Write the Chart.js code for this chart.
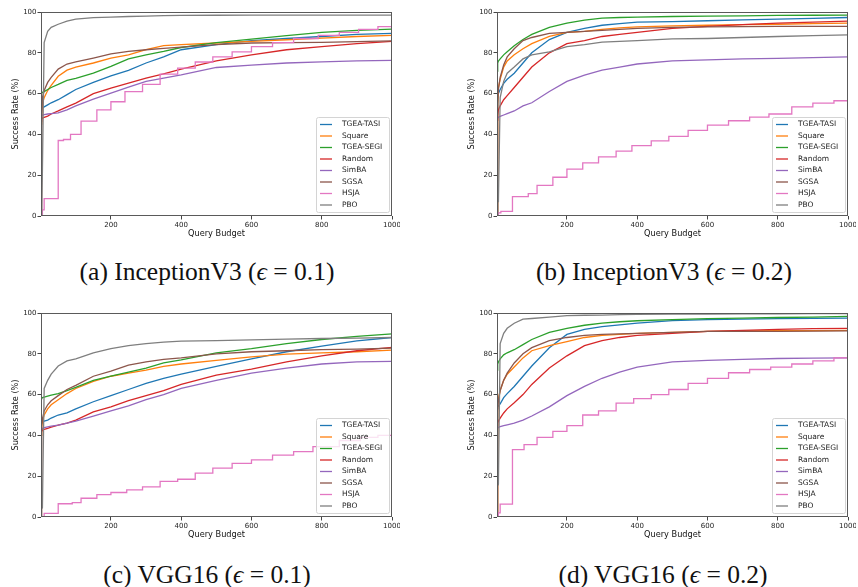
<!DOCTYPE html>
<html>
<head>
<meta charset="utf-8">
<script src="https://cdn.jsdelivr.net/npm/chart.js@4.4.1/dist/chart.umd.min.js"></script>
<style>
  body { margin: 0; background: #fff; width: 858px; height: 587px; position: relative; overflow: hidden; }
  .panel { position: absolute; width: 400px; height: 250px; }
  .caption { position: absolute; width: 414px; text-align: center; font-family: "Liberation Serif", serif;
             font-size: 25.5px; line-height: 26px; color: #111; white-space: nowrap; }
</style>
</head>
<body>
<div class="panel" style="left:0;top:0"><canvas id="chartA" width="400" height="250"></canvas></div>
<div class="panel" style="left:456px;top:0"><canvas id="chartB" width="400" height="250"></canvas></div>
<div class="panel" style="left:0;top:301px"><canvas id="chartC" width="400" height="250"></canvas></div>
<div class="panel" style="left:456px;top:301px"><canvas id="chartD" width="400" height="250"></canvas></div>
<div class="caption" style="left:0;top:259px">(a) InceptionV3 (<i>ϵ</i> = 0.1)</div>
<div class="caption" style="left:457px;top:259px">(b) InceptionV3 (<i>ϵ</i> = 0.2)</div>
<div class="caption" style="left:0;top:562px">(c) VGG16 (<i>ϵ</i> = 0.1)</div>
<div class="caption" style="left:456px;top:562px">(d) VGG16 (<i>ϵ</i> = 0.2)</div>
<script>
const budgets = [1, 3, 5, 10, 20, 30, 50, 75, 100, 150, 200, 250, 300, 350, 400, 500, 600, 700, 800, 900, 1000];
const methods = ['TGEA-TASI', 'Square', 'TGEA-SEGI', 'Random', 'SimBA', 'SGSA', 'HSJA', 'PBO'];
const colors = ['#1f77b4', '#ff7f0e', '#2ca02c', '#d62728', '#9467bd', '#8c564b', '#e377c2', '#7f7f7f'];
const xTicks = [200, 400, 600, 800, 1000];
const yTicks = [0, 20, 40, 60, 80, 100];

// (a) InceptionV3, eps = 0.1
const incep01TASI = [52, 52.5, 53, 53.5, 54.5, 55.5, 57, 59.5, 62, 65.5, 68.7, 71.4, 75, 78, 81.5, 84, 86, 87, 88, 89, 89.5];
const incep01Square = [45, 50, 55, 58, 61.5, 64, 68.5, 71.5, 73, 75, 77.4, 79, 81.5, 83.5, 84, 84.8, 85.6, 86.4, 87.2, 88, 88.5];
const incep01SEGI = [60, 60.3, 60.6, 61, 62, 63, 64.5, 66.5, 67.5, 70, 73.3, 77, 79, 80.7, 82.6, 85, 86.7, 88.4, 90, 91, 91.6];
const incep01Random = [46.5, 47.5, 48, 48.3, 49, 50, 51.5, 53.5, 55.3, 60, 62.7, 65.1, 67.6, 69.7, 72, 76, 79, 81.5, 83, 84.5, 85.6];
const incep01SimBA = [49, 49.3, 49.5, 49.7, 50, 50.2, 50.5, 52, 54, 57.3, 60.2, 63.2, 66, 67.6, 69.2, 72.8, 74, 75, 75.6, 76, 76.3];
const incep01SGSA = [0, 47, 58, 61.5, 65.5, 68, 72, 74.5, 75.5, 77.4, 79.5, 80.7, 81.5, 82.2, 82.8, 84, 84.8, 85, 85.1, 85.5, 85.8];
const incep01PBO = [0, 5, 22, 85, 90.5, 92.5, 94, 95.5, 96.5, 97.2, 97.5, 97.8, 98, 98.2, 98.3, 98.4, 98.5, 98.5, 98.5, 98.5, 98.5];
const incep01HsjaX = [1, 5, 10, 50, 65, 85, 115, 160, 200, 240, 290, 340, 390, 440, 490, 545, 600, 660, 720, 790, 850, 905, 960, 1000];
const incep01HsjaY = [0, 3, 8.5, 37, 37.5, 40, 46.5, 52, 56, 61, 64.5, 69.5, 72.5, 75.5, 78, 80.5, 83, 85, 87, 88.5, 90, 91.5, 92.8, 92.8];

// (b) InceptionV3, eps = 0.2
const incep02TASI = [50, 58, 60, 62, 65, 67, 70, 75, 80, 86.5, 90, 92, 93.5, 94.3, 95, 95.3, 95.7, 96.1, 96.5, 96.9, 97.3];
const incep02Square = [0, 55, 63, 67, 73, 76, 79, 82, 84.5, 88, 90, 90.5, 91.5, 92.2, 92.7, 93.2, 93.5, 93.8, 94, 94.3, 94.5];
const incep02SEGI = [71, 75, 76, 77, 79, 80.5, 83.5, 86.5, 89, 92.5, 94.5, 96, 97, 97.3, 97.5, 97.8, 98, 98.1, 98.3, 98.4, 98.5];
const incep02Random = [47, 50, 52, 54, 57, 59, 63, 68, 73, 80, 84.5, 86, 88, 89, 90, 92, 93, 93.8, 94.5, 95, 95.5];
const incep02SimBA = [48, 48.2, 48.4, 48.8, 49.5, 50.2, 51.5, 54, 55.5, 61, 66, 69, 71.5, 73, 74.5, 76, 76.5, 77, 77.3, 77.6, 78];
const incep02SGSA = [0, 55, 62, 68, 74, 78, 82, 86, 87.5, 89.5, 90, 90.5, 91, 91.5, 92, 92.5, 92.7, 92.8, 93, 93, 93];
const incep02PBO = [0, 7, 7, 58, 66, 70, 73, 77, 79, 80.5, 83, 84, 85.2, 85.6, 86, 86.8, 87, 87.5, 88, 88.4, 88.8];
const incep02HsjaX = [1, 5, 12, 45, 90, 115, 160, 200, 245, 290, 340, 385, 440, 490, 545, 600, 660, 720, 775, 840, 900, 960, 1000];
const incep02HsjaY = [0, 1.5, 2.3, 9.5, 11, 15, 19, 23, 26, 29, 31.8, 34.5, 36.8, 39, 42, 44.5, 46.7, 48.5, 50, 53.5, 55.3, 56.5, 56.5];

// (c) VGG16, eps = 0.1
const vgg01TASI = [46, 46.3, 46.6, 47, 47.5, 48.5, 50, 51, 53, 56.5, 59.5, 62.5, 65.5, 68, 70, 73.8, 77.5, 81, 83.8, 86.3, 88];
const vgg01Square = [40, 44, 47, 50, 53, 55, 57.5, 60.5, 63, 66.5, 69, 70.5, 72, 73.8, 75, 76.8, 78.5, 79.8, 80.5, 81, 81.8];
const vgg01SEGI = [58, 58.2, 58.5, 58.8, 59.3, 59.8, 60.5, 62, 63.5, 67, 69, 71, 73, 75.5, 77, 80.5, 82.5, 85, 87, 88.5, 89.8];
const vgg01Random = [42, 42.3, 42.6, 43, 43.5, 44, 45, 46, 47.5, 51.5, 54, 57, 59.5, 62, 65, 69.5, 72.5, 76, 79, 81.5, 83.2];
const vgg01SimBA = [43, 43.3, 43.5, 43.8, 44.2, 44.5, 45, 46, 47, 49.5, 52, 54.5, 57.5, 60, 63, 67, 70.5, 73, 75, 76, 76.3];
const vgg01SGSA = [0, 45, 48, 52, 55, 57, 59.5, 62.5, 64.5, 69, 71.5, 74.5, 76, 77.3, 78, 80, 81, 81.5, 82, 82.3, 82.8];
const vgg01PBO = [4, 4, 4.5, 63, 67, 70, 74, 76.5, 77.5, 80.5, 82.5, 84, 85, 85.7, 86.2, 86.5, 86.8, 87.2, 87.5, 87.7, 88];
const vgg01HsjaX = [1, 10, 50, 90, 115, 160, 200, 245, 290, 340, 390, 440, 490, 545, 600, 660, 720, 775, 850, 910, 960, 1000];
const vgg01HsjaY = [0, 1.8, 6.5, 7, 9.2, 11, 12, 13.3, 14.8, 17.5, 18.5, 21.5, 24, 26.3, 28, 30.3, 32, 34.5, 37.5, 39, 40, 40];

// (d) VGG16, eps = 0.2
const vgg02TASI = [53, 54, 54.5, 55.5, 58.5, 60.5, 64, 69, 74, 83, 89.5, 92, 93.3, 94.2, 95, 96.3, 96.8, 97, 97.2, 97.4, 97.5];
const vgg02Square = [0, 55, 58, 62, 67, 70, 73.5, 78, 81.5, 84, 86, 88, 89, 89.5, 90, 90.5, 91, 91.2, 91.3, 91.4, 91.5];
const vgg02SEGI = [72, 75, 76, 77.5, 79.5, 80.5, 82, 84.5, 87, 90.5, 92.5, 94, 95, 95.7, 96.2, 96.8, 97.2, 97.5, 97.8, 98, 98.3];
const vgg02Random = [45, 46, 47, 48.5, 51, 53, 56, 60, 65, 73, 79, 84, 86.5, 88, 89, 90, 91, 91.5, 92, 92.3, 92.5];
const vgg02SimBA = [43.5, 43.7, 44, 44.3, 44.8, 45.2, 46, 47.5, 49.5, 54, 59.5, 64, 68, 71, 73.5, 76, 76.8, 77.3, 77.7, 77.9, 78];
const vgg02SGSA = [0, 52, 57, 62, 67, 70.5, 75.5, 80, 83, 86.5, 88, 89, 89.5, 89.8, 90, 90.5, 91, 91, 91, 91.1, 91.2];
const vgg02PBO = [15, 15, 16, 85, 90, 92.5, 95, 97, 97.3, 98, 98.7, 98.9, 99, 99.2, 99.3, 99.4, 99.5, 99.6, 99.6, 99.7, 99.7];
const vgg02HsjaX = [1, 5, 10, 45, 78, 115, 160, 200, 245, 290, 340, 390, 440, 490, 545, 600, 660, 720, 780, 840, 900, 960, 1000];
const vgg02HsjaY = [0, 2, 6.3, 33, 35.5, 39, 42, 44.8, 50, 52, 55.8, 58, 60, 62.5, 65.5, 68, 70.7, 72.3, 73.5, 75, 76.5, 78, 78];

const panels = [
  { id: 'chartA', series: [incep01TASI, incep01Square, incep01SEGI, incep01Random, incep01SimBA, incep01SGSA, null, incep01PBO], hsjaX: incep01HsjaX, hsjaY: incep01HsjaY },
  { id: 'chartB', series: [incep02TASI, incep02Square, incep02SEGI, incep02Random, incep02SimBA, incep02SGSA, null, incep02PBO], hsjaX: incep02HsjaX, hsjaY: incep02HsjaY },
  { id: 'chartC', series: [vgg01TASI, vgg01Square, vgg01SEGI, vgg01Random, vgg01SimBA, vgg01SGSA, null, vgg01PBO], hsjaX: vgg01HsjaX, hsjaY: vgg01HsjaY },
  { id: 'chartD', series: [vgg02TASI, vgg02Square, vgg02SEGI, vgg02Random, vgg02SimBA, vgg02SGSA, null, vgg02PBO], hsjaX: vgg02HsjaX, hsjaY: vgg02HsjaY },
];

// axes frame + matplotlib-style legend box in the lower right corner
const framePlugin = {
  id: 'frame',
  afterDatasetsDraw(chart) {
    const { ctx, chartArea: a } = chart;
    ctx.save();
    ctx.strokeStyle = '#5a5a5a';
    ctx.lineWidth = 1;
    ctx.strokeRect(a.left + 0.5, a.top + 0.5, a.right - a.left - 1, a.bottom - a.top - 1);

    const w = 73, h = 95;
    const bx = a.right - 3 - w, by = a.bottom - 4 - h;
    ctx.beginPath();
    ctx.roundRect(bx + 0.5, by + 0.5, w, h, 2);
    ctx.fillStyle = 'rgba(255,255,255,0.8)';
    ctx.fill();
    ctx.strokeStyle = '#d4d4d4';
    ctx.stroke();

    ctx.font = '7.5px "DejaVu Sans"';
    ctx.textBaseline = 'middle';
    methods.forEach((m, i) => {
      const cy = by + 7.5 + i * 11.5;
      ctx.strokeStyle = colors[i];
      ctx.lineWidth = 1.3;
      ctx.beginPath();
      ctx.moveTo(bx + 4, cy);
      ctx.lineTo(bx + 16, cy);
      ctx.stroke();
      ctx.fillStyle = '#222';
      ctx.fillText(m, bx + 26, cy);
    });
    ctx.restore();
  }
};

const tickFont = { family: 'DejaVu Sans', size: 7 };
const titleFont = { family: 'DejaVu Sans', size: 8.2 };

panels.forEach(p => {
  const datasets = methods.map((m, i) => {
    const pts = m === 'HSJA'
      ? p.hsjaX.map((x, k) => ({ x, y: p.hsjaY[k] }))
      : budgets.map((x, k) => ({ x, y: p.series[i][k] }));
    return {
      label: m,
      data: pts,
      borderColor: colors[i],
      backgroundColor: colors[i],
      borderWidth: 1.3,
      pointRadius: 0,
      // HSJA only improves at the end of each iteration: hold, then jump
      stepped: m === 'HSJA' ? 'before' : false,
      order: methods.length - i
    };
  });

  new Chart(document.getElementById(p.id), {
    type: 'line',
    data: { datasets },
    plugins: [framePlugin],
    options: {
      responsive: false,
      animation: false,
      layout: { padding: { left: 0, top: 12, right: 8, bottom: 0 } },
      plugins: { legend: { display: false }, tooltip: { enabled: false } },
      scales: {
        x: {
          type: 'linear', min: 1, max: 1000,
          afterBuildTicks: s => { s.ticks = xTicks.map(v => ({ value: v })); },
          afterFit: s => { s.height = 34; s.paddingLeft = 0; s.paddingRight = 0; },
          grid: { drawOnChartArea: false, tickLength: 3.5, color: '#444' },
          border: { display: false },
          ticks: { font: tickFont, color: '#222', padding: 1.5, maxRotation: 0, autoSkip: false, callback: v => String(v) },
          title: { display: true, text: 'Query Budget', font: titleFont, color: '#111', padding: { top: 0, bottom: 11.6 } }
        },
        y: {
          min: 0, max: 100,
          afterBuildTicks: s => { s.ticks = yTicks.map(v => ({ value: v })); },
          afterFit: s => { s.width = 41; s.paddingTop = 0; s.paddingBottom = 0; },
          grid: { drawOnChartArea: false, tickLength: 3.5, color: '#444' },
          border: { display: false },
          ticks: { font: tickFont, color: '#222', padding: 1, autoSkip: false, callback: v => String(v) },
          title: { display: true, text: 'Success Rate (%)', font: titleFont, color: '#111', padding: { top: 11, bottom: 0 } }
        }
      }
    }
  });
});
</script>
</body>
</html>
